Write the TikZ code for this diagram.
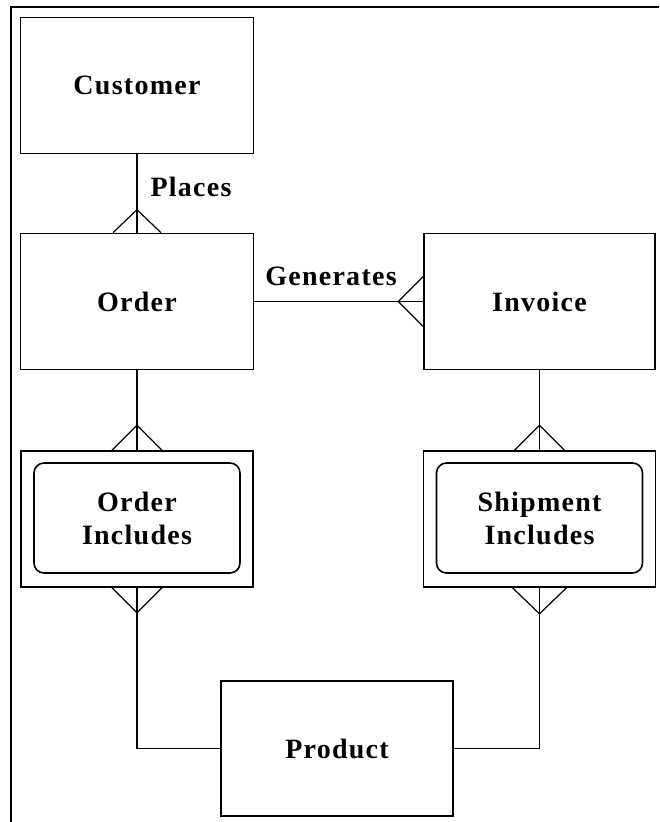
\documentclass[tikz,border=0pt]{standalone}
\usepackage{fontspec}
\setmainfont{Liberation Serif}[LetterSpace=4.5]
\usetikzlibrary{calc}
\newcommand{\erfont}{\bfseries\fontsize{28}{33}\selectfont}
\begin{document}
\begin{tikzpicture}[x=1pt,y=-1pt,
  ent/.style={draw,line width=1.6pt,minimum width=233pt,minimum height=136pt,inner sep=0pt,font=\erfont,align=center},
  outerbox/.style={draw,line width=1.6pt,minimum width=232pt,minimum height=136pt,inner sep=0pt},
  innerbox/.style={draw,line width=1.6pt,rounded corners=10pt,minimum width=206pt,minimum height=110pt,inner sep=0pt,font=\erfont,align=center},
  lbl/.style={font=\erfont,inner sep=0pt},
  conn/.style={line width=1.5pt},
  crow/.style={line width=1.2pt},
  frame/.style={line width=2.5pt}]
\useasboundingbox (0,0) rectangle (660,822);
\fill[white] (0,0) rectangle (660,822);
\coordinate (fbl) at (11,822);
\coordinate (ftl) at (11,7);
\coordinate (ftr) at (659,7);
\draw[frame] (fbl) -- (ftl) -- (ftr);

\node[ent] (cust) at (137,85.5) {Customer};
\node[ent] (order) at (137,301.5) {Order};
\node[ent,minimum width=231pt] (inv) at (539.5,301.5) {Invoice};
\node[outerbox] (oi) at (137,519) {};
\node[innerbox] (oiin) at (137,518) {Order\\Includes};
\node[outerbox] (si) at (539.5,519) {};
\node[innerbox] (siin) at (539.5,518) {Shipment\\Includes};
\node[ent,minimum width=232pt,minimum height=135pt] (prod) at (337,748.5) {Product};

\node[lbl] (places) at (191,187) {Places};
\node[lbl] (gen) at (331,276) {Generates};

\draw[conn] (cust.south) -- (order.north);
\draw[conn] (order.east) -- (inv.west);
\draw[conn] (order.south) -- (oi.north);
\draw[conn] (inv.south) -- (si.north);
\draw[conn] (oi.south) |- (prod.west);
\draw[conn] (si.south) |- (prod.east);

\draw[crow] ($(order.north)+(-24,0)$) -- ($(order.north)+(0,-23)$) -- ($(order.north)+(24,0)$);
\draw[crow] ($(inv.west)+(0,-25)$) -- ($(inv.west)+(-25,0)$) -- ($(inv.west)+(0,25)$);
\draw[crow] ($(oi.north)+(-25,0)$) -- ($(oi.north)+(0,-25)$) -- ($(oi.north)+(25,0)$);
\draw[crow] ($(si.north)+(-25,0)$) -- ($(si.north)+(0,-25)$) -- ($(si.north)+(25,0)$);
\draw[crow] ($(oi.south)+(-25,0)$) -- ($(oi.south)+(0,25)$) -- ($(oi.south)+(25,0)$);
\draw[crow] ($(si.south)+(-27,0)$) -- ($(si.south)+(0,26)$) -- ($(si.south)+(27,0)$);
\end{tikzpicture}
\end{document}
